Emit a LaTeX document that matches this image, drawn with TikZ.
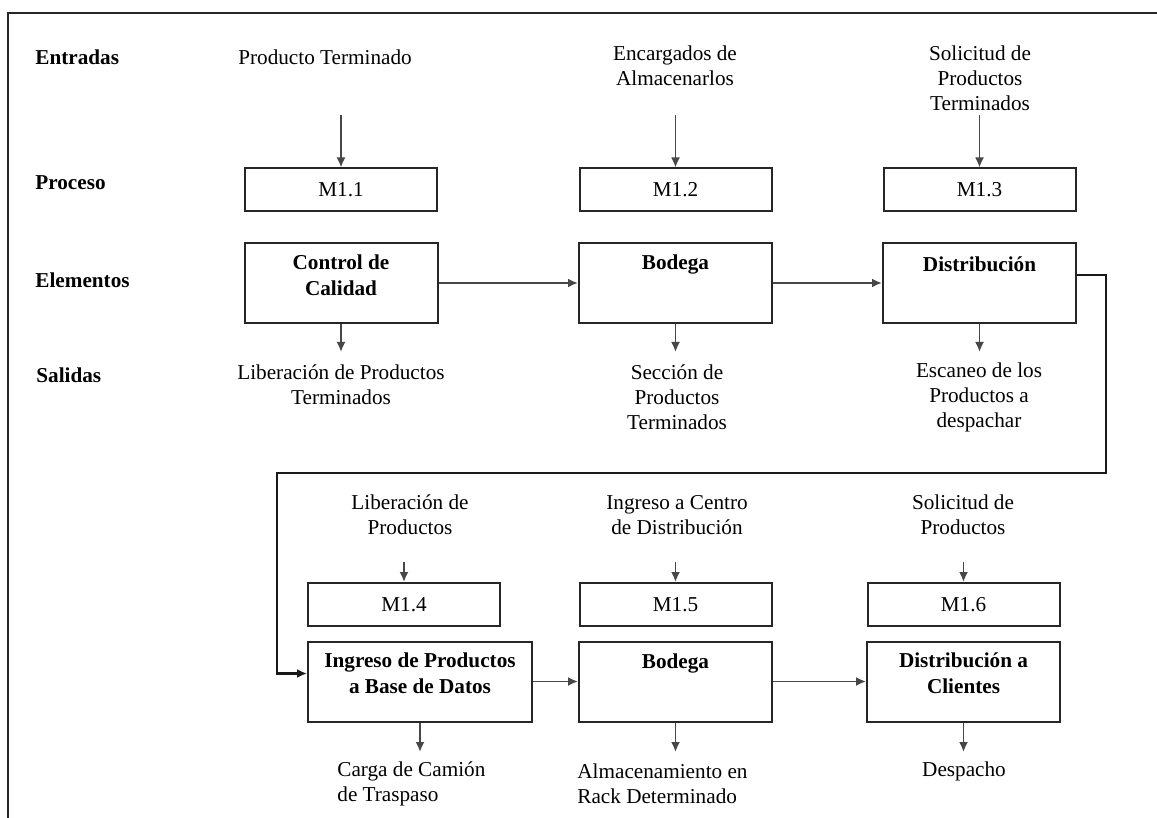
\documentclass[tikz,border=0pt]{standalone}
\usepackage{fontspec}
\setmainfont{Liberation Serif}
\usetikzlibrary{arrows.meta}
\begin{document}
\begin{tikzpicture}[x=0.5pt,y=-0.5pt,
  txt/.style={font=\fontsize{10.6}{12.5}\selectfont, align=center, inner sep=0pt},
  txtl/.style={font=\fontsize{10.6}{12.5}\selectfont, align=left, inner sep=0pt, anchor=west},
  rowlbl/.style={font=\fontsize{10.6}{12.5}\selectfont\bfseries, anchor=west, inner sep=0pt},
  boldtxt/.style={font=\fontsize{10.6}{12.8}\selectfont\bfseries, align=center, inner sep=0pt},
  mbox/.style={draw=black!85, line width=1pt, minimum width=96pt, minimum height=21.5pt,
    inner sep=0pt, font=\fontsize{10.6}{12.5}\selectfont},
  ebox/.style={draw=black!85, line width=1pt, minimum width=96.5pt, minimum height=40pt, inner sep=0pt},
  arr/.style={draw=black!72, line width=0.9pt, -{Latex[length=5pt,width=4.5pt]}},
  loopline/.style={draw=black!90, line width=1.3pt, -{Latex[length=5pt,width=4.5pt]}}
]
\useasboundingbox (0,0) rectangle (1157,818);
\fill[white] (0,0) rectangle (1157,818);

% outer frame (open to the right and bottom)
\draw[black!85, line width=1.1pt] (8,818) -- (8,13) -- (1157,13);

% row labels
\node[rowlbl] (lEnt) at (35,57)  {Entradas};
\node[rowlbl] (lPro) at (35,183) {Proceso};
\node[rowlbl] (lEle) at (35,280) {Elementos};
\node[rowlbl] (lSal) at (36,375) {Salidas};

% ---------- upper chain ----------
\node[mbox] (m1) at (341,190)   {M1.1};
\node[mbox] (m2) at (675.5,190) {M1.2};
\node[mbox] (m3) at (979.5,190) {M1.3};

\node[ebox] (e1) at (341,283)   {};
\node[ebox] (e2) at (675.5,283) {};
\node[ebox] (e3) at (979.5,283) {};
\node[boldtxt] (e1t) at (341,275)   {Control de\\Calidad};
\node[boldtxt] (e2t) at (675.5,264) {Bodega};
\node[boldtxt] (e3t) at (979.5,264) {Distribución};

% inputs
\node[txt] (in1) at (325,57)    {Producto Terminado};
\node[txt] (in2) at (675,66)    {Encargados de\\Almacenarlos};
\node[txt] (in3) at (980,78)    {Solicitud de\\Productos\\Terminados};
\coordinate (a1) at (341,115);
\coordinate (a2) at (675.5,115);
\coordinate (a3) at (979.5,115);
\draw[arr] (a1) -- (m1);
\draw[arr] (a2) -- (m2);
\draw[arr] (a3) -- (m3);

% outputs
\coordinate (b1) at (341,352);
\coordinate (b2) at (675.5,352);
\coordinate (b3) at (979.5,352);
\draw[arr] (e1) -- (b1);
\draw[arr] (e2) -- (b2);
\draw[arr] (e3) -- (b3);
\node[txt] (out1) at (341,385)  {Liberación de Productos\\Terminados};
\node[txt] (out2) at (677,397)  {Sección de\\Productos\\Terminados};
\node[txt] (out3) at (979,397)  {Escaneo de los\\Productos a\\despachar};

% flow between elements
\draw[arr] (e1) -- (e2);
\draw[arr] (e2) -- (e3);

% ---------- lower chain ----------
\node[mbox] (m4) at (404,604.5)   {M1.4};
\node[mbox] (m5) at (675.5,604.5) {M1.5};
\node[mbox] (m6) at (963.5,604.5) {M1.6};

\node[ebox, minimum width=112pt] (e4) at (420,681.5) {};
\node[ebox] (e5) at (675.5,681.5) {};
\node[ebox] (e6) at (963.5,681.5) {};
\node[boldtxt] (e4t) at (420,673.5)   {Ingreso de Productos\\a Base de Datos};
\node[boldtxt] (e5t) at (675.5,663)   {Bodega};
\node[boldtxt] (e6t) at (963.5,673.5) {Distribución a\\Clientes};

% inputs
\node[txt] (in4) at (410,515) {Liberación de\\Productos};
\node[txt] (in5) at (677,515) {Ingreso a Centro\\de Distribución};
\node[txt] (in6) at (963,515) {Solicitud de\\Productos};
\coordinate (a4) at (404,562);
\coordinate (a5) at (675.5,562);
\coordinate (a6) at (963.5,562);
\draw[arr] (a4) -- (m4);
\draw[arr] (a5) -- (m5);
\draw[arr] (a6) -- (m6);

% outputs
\coordinate (b4) at (420,752);
\coordinate (b5) at (675.5,752);
\coordinate (b6) at (963.5,752);
\draw[arr] (e4) -- (b4);
\draw[arr] (e5) -- (b5);
\draw[arr] (e6) -- (b6);
\node[txtl] (out4) at (337,784) {Carga de Camión\\de Traspaso};
\node[txtl] (out5) at (577,784) {Almacenamiento en\\Rack Determinado};
\node[txt]  (out6) at (964,771) {Despacho};

% flow between elements
\draw[arr] (e4) -- (e5);
\draw[arr] (e5) -- (e6);

% return line from the upper chain to the lower chain
\coordinate (r1) at (1106,473);
\coordinate (r2) at (277,473);
\draw[loopline] ([yshift=4pt]e3.east) -| (r1) -- (r2) |- ([yshift=4pt]e4.west);
\end{tikzpicture}
\end{document}
